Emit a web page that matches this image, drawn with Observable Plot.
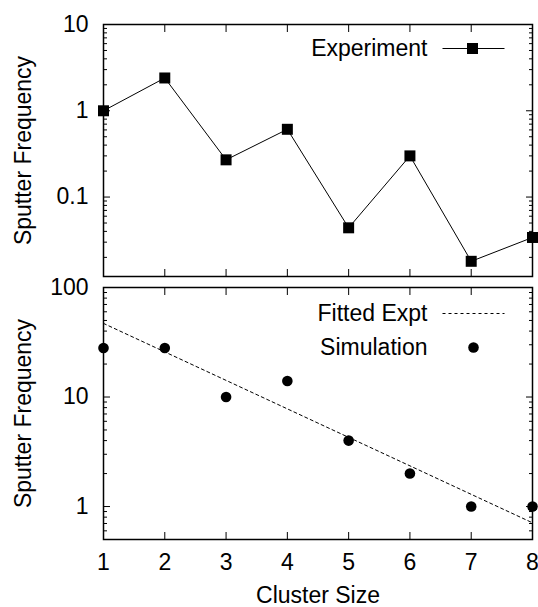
<!DOCTYPE html>
<html>
<head>
<meta charset="utf-8">
<script src="https://cdn.jsdelivr.net/npm/d3@7"></script>
<script src="https://cdn.jsdelivr.net/npm/@observablehq/plot@0.6"></script>
<style>
  html, body { margin: 0; padding: 0; background: #fff; }
  #chart svg { display: block; }
</style>
</head>
<body>
<div id="chart"></div>
<script>
// ---- data ----
const clusterSizes = [1, 2, 3, 4, 5, 6, 7, 8];
const experiment = [1.0, 2.4, 0.27, 0.61, 0.044, 0.30, 0.018, 0.034];
const simulation = [28, 28, 10, 14, 4, 2, 1, 1];
const fitX = [1, 8];
const fitY = [47, 0.71];

const xTicks = [1, 2, 3, 4, 5, 6, 7, 8];
const topMajor = [0.1, 1, 10];
const topMinor = [0.02, 0.03, 0.04, 0.05, 0.06, 0.07, 0.08, 0.09,
                  0.2, 0.3, 0.4, 0.5, 0.6, 0.7, 0.8, 0.9,
                  2, 3, 4, 5, 6, 7, 8, 9];
const botMajor = [1, 10, 100];
const botMinor = [0.6, 0.7, 0.8, 0.9,
                  2, 3, 4, 5, 6, 7, 8, 9,
                  20, 30, 40, 50, 60, 70, 80, 90];
const yLabel = "Sputter Frequency";
const xLabel = "Cluster Size";
const legendTop = ["Experiment"];
const legendBottom = ["Fitted Expt", "Simulation"];

const expData = clusterSizes.map((x, i) => ({x, y: experiment[i]}));
const simData = clusterSizes.map((x, i) => ({x, y: simulation[i]}));
const fitData = fitX.map((x, i) => ({x, y: fitY[i]}));

// ---- style ----
const FONT = "'Liberation Sans', Arial, Helvetica, sans-serif";
const FS = 23;
const W = 538;
const ML = 103, MR = 6;
const chartStyle = {fontFamily: FONT, fontSize: FS + "px", color: "black", background: "white", overflow: "visible"};
const none = () => "";
const hline = {draw(ctx) { ctx.moveTo(-31, 0); ctx.lineTo(31, 0); }};

function yAxes(major, minor) {
  return [
    Plot.axisY(major, {anchor: "left", tickSize: -7, tickPadding: 22, tickFormat: d => String(d), label: null, fontSize: FS}),
    Plot.axisY(minor, {anchor: "left", tickSize: -4, tickFormat: none, label: null}),
    Plot.axisY(major, {anchor: "right", tickSize: -7, tickFormat: none, label: null}),
    Plot.axisY(minor, {anchor: "right", tickSize: -4, tickFormat: none, label: null})
  ];
}

const topPlot = Plot.plot({
  width: W, height: 283,
  marginTop: 24, marginBottom: 7, marginLeft: ML, marginRight: MR,
  style: chartStyle,
  x: {domain: [1, 8]},
  y: {type: "log", domain: [0.012, 10]},
  marks: [
    ...yAxes(topMajor, topMinor),
    Plot.axisX(xTicks, {anchor: "bottom", tickSize: -7, tickFormat: none, label: null}),
    Plot.axisX(xTicks, {anchor: "top", tickSize: -7, tickFormat: none, label: null}),
    Plot.frame({stroke: "black", strokeWidth: 1.5}),
    Plot.line(expData, {x: "x", y: "y", stroke: "black", strokeWidth: 1}),
    Plot.dot(expData, {x: "x", y: "y", symbol: "square", r: 6.2, fill: "black", stroke: "none"}),
    Plot.text(legendTop, {frameAnchor: "top-right", dx: -105, dy: 24, textAnchor: "end", lineAnchor: "middle", fontSize: FS}),
    Plot.dot(legendTop, {frameAnchor: "top-right", dx: -59, dy: 24, symbol: hline, r: 1, fill: "none", stroke: "black", strokeWidth: 1}),
    Plot.dot(legendTop, {frameAnchor: "top-right", dx: -60, dy: 24, symbol: "square", r: 6.2, fill: "black", stroke: "none"}),
    Plot.text([yLabel], {frameAnchor: "left", dx: -80, rotate: -90, textAnchor: "middle", lineAnchor: "middle", fontSize: FS})
  ]
});

const bottomPlot = Plot.plot({
  width: W, height: 324,
  marginTop: 4, marginBottom: 68, marginLeft: ML, marginRight: MR,
  style: chartStyle,
  x: {domain: [1, 8]},
  y: {type: "log", domain: [0.5, 100]},
  marks: [
    ...yAxes(botMajor, botMinor),
    Plot.axisX(xTicks, {anchor: "bottom", tickSize: -7, tickPadding: 21, tickFormat: d => String(d), label: null, fontSize: FS}),
    Plot.axisX(xTicks, {anchor: "top", tickSize: -7, tickFormat: none, label: null}),
    Plot.frame({stroke: "black", strokeWidth: 1.5}),
    Plot.line(fitData, {x: "x", y: "y", stroke: "black", strokeWidth: 1, strokeDasharray: "3,3"}),
    Plot.dot(simData, {x: "x", y: "y", r: 5.3, fill: "black", stroke: "none"}),
    Plot.text(legendBottom.slice(0, 1), {frameAnchor: "top-right", dx: -105, dy: 26, textAnchor: "end", lineAnchor: "middle", fontSize: FS}),
    Plot.text(legendBottom.slice(1, 2), {frameAnchor: "top-right", dx: -105, dy: 60, textAnchor: "end", lineAnchor: "middle", fontSize: FS}),
    Plot.dot(legendBottom.slice(0, 1), {frameAnchor: "top-right", dx: -59, dy: 26, symbol: hline, r: 1, fill: "none", stroke: "black", strokeWidth: 1, strokeDasharray: "3,3"}),
    Plot.dot(legendBottom.slice(1, 2), {frameAnchor: "top-right", dx: -59, dy: 60, r: 5.3, fill: "black", stroke: "none"}),
    Plot.text([yLabel], {frameAnchor: "left", dx: -80, rotate: -90, textAnchor: "middle", lineAnchor: "middle", fontSize: FS}),
    Plot.text([xLabel], {frameAnchor: "bottom", dy: 56, textAnchor: "middle", lineAnchor: "middle", fontSize: FS})
  ]
});

const chart = document.getElementById("chart");
chart.appendChild(topPlot);
chart.appendChild(bottomPlot);
</script>
</body>
</html>
